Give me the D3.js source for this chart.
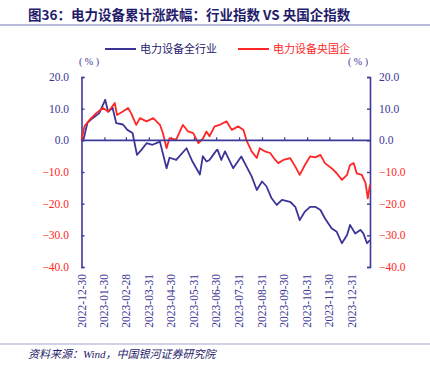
<!DOCTYPE html>
<html><head><meta charset="utf-8">
<script src="https://cdn.jsdelivr.net/npm/d3@7"></script>
<style>body{margin:0;background:#fff}svg{display:block}</style>
</head><body>
<svg id="c" width="430" height="379"></svg>
<script>
const titleText = "图36：电力设备累计涨跌幅：行业指数 VS 央国企指数";
const sourceText = "资料来源：Wind，中国银河证券研究院";
const seriesNames = ["电力设备全行业", "电力设备央国企"];
const yTicks = [20, 10, 0, -10, -20, -30, -40];
const xTickLabels = ["2022-12-30","2023-01-30","2023-02-28","2023-03-31","2023-04-30","2023-05-31","2023-06-30","2023-07-31","2023-08-31","2023-09-30","2023-10-31","2023-11-30","2023-12-31"];

const industryDates = ["2022-12-30","2023-01-02","2023-01-07","2023-01-14","2023-01-23","2023-01-31","2023-02-04","2023-02-10","2023-02-15","2023-02-24","2023-03-02","2023-03-09","2023-03-15","2023-03-21","2023-03-28","2023-04-05","2023-04-15","2023-04-24","2023-04-28","2023-05-07","2023-05-21","2023-05-29","2023-06-08","2023-06-12","2023-06-17","2023-06-21","2023-06-26","2023-07-01","2023-07-02","2023-07-07","2023-07-12","2023-07-23","2023-08-03","2023-08-10","2023-08-17","2023-08-24","2023-08-31","2023-09-06","2023-09-13","2023-09-20","2023-09-27","2023-10-08","2023-10-15","2023-10-21","2023-10-28","2023-11-04","2023-11-11","2023-11-18","2023-11-24","2023-12-03","2023-12-10","2023-12-17","2023-12-24","2023-12-28","2024-01-04","2024-01-11","2024-01-15","2024-01-20","2024-01-24"];
const industryValues = [0,0.5,5.5,7,8.6,12.8,9,10.3,5.4,5,3.3,2.3,-4.6,-3,-0.9,-1.4,-0.4,-8.8,-5.5,-6.2,-2.5,-6.7,-10.8,-5,-6.7,-6.2,-4.6,-3,-3,-6.2,-3.5,-8.8,-5.1,-8.2,-11.4,-15.7,-13,-14.5,-18.3,-20.4,-18.8,-19.4,-21,-25.2,-22.5,-21,-21,-22,-24.6,-27.8,-28.9,-32.5,-29.9,-26.7,-29.4,-28.3,-29.4,-32.5,-31.5];

const soeDates = ["2022-12-30","2023-01-03","2023-01-10","2023-01-19","2023-01-28","2023-02-04","2023-02-08","2023-02-13","2023-02-16","2023-02-24","2023-03-03","2023-03-07","2023-03-14","2023-03-19","2023-03-28","2023-04-06","2023-04-15","2023-04-19","2023-04-24","2023-04-28","2023-05-07","2023-05-16","2023-05-23","2023-05-30","2023-06-06","2023-06-12","2023-06-17","2023-06-21","2023-06-28","2023-07-05","2023-07-14","2023-07-21","2023-07-30","2023-08-06","2023-08-10","2023-08-17","2023-08-24","2023-08-28","2023-09-04","2023-09-11","2023-09-18","2023-09-22","2023-09-29","2023-10-08","2023-10-15","2023-10-21","2023-10-28","2023-11-04","2023-11-11","2023-11-18","2023-11-24","2023-12-03","2023-12-10","2023-12-17","2023-12-24","2023-12-28","2024-01-02","2024-01-06","2024-01-13","2024-01-18","2024-01-21","2024-01-24"];
const soeValues = [0,4.4,6.5,8.6,10.2,9.1,10.2,11.8,8,9.1,10.2,8.6,4.9,7,6,7,4.9,2.3,-2.5,0.7,0.2,4.9,2.8,2.3,-0.9,0.5,2.8,1.3,4.4,4.9,6,3.3,4.4,3.3,0,-3.5,-5.6,-2.5,-3.5,-4,-6.2,-7.2,-6.2,-5.6,-8.3,-10.9,-7.8,-5.1,-5.4,-4.6,-7.2,-8.8,-10.4,-12.5,-10.9,-7.8,-7.2,-10.4,-10.9,-13.5,-18.3,-14];

const NAVY = "#3b3596", RED = "#ff2626", AXIS = "#3f3a9a", TITLE = "#1f1c6b", RULE = "#a3a3d2";
const parse = d3.timeParse("%Y-%m-%d");
const svg = d3.select("#c");
const L = 81.5, R = 370;

const x = d3.scaleTime().domain([parse("2022-12-30"), parse("2024-01-24")]).range([L, R]);
const y = d3.scaleLinear().domain([-40, 20]).range([267, 77]);

// title
svg.append("text").attr("x", 28).attr("y", 20).attr("fill", TITLE)
  .attr("font-family", "'Noto Sans CJK SC', sans-serif").attr("font-weight", "bold").attr("font-size", 13.5)
  .text(titleText);
svg.append("line").attr("x1", 0).attr("x2", 430).attr("y1", 25).attr("y2", 25).attr("stroke", RULE).attr("stroke-width", 1.5);

// legend
const legend = [{name: seriesNames[0], color: NAVY, x: 105}, {name: seriesNames[1], color: RED, x: 238}];
legend.forEach(l => {
  svg.append("line").attr("x1", l.x).attr("x2", l.x + 31).attr("y1", 49).attr("y2", 49).attr("stroke", l.color).attr("stroke-width", 2);
  svg.append("text").attr("x", l.x + 35).attr("y", 53).attr("fill", l.color === NAVY ? TITLE : RED)
    .attr("font-family", "'Noto Sans CJK SC', sans-serif").attr("font-size", 11).text(l.name);
});

// units
[[89, 65], [358, 65]].forEach(p => {
  svg.append("text").attr("x", p[0]).attr("y", p[1]).attr("text-anchor", "middle").attr("fill", NAVY)
    .attr("font-family", "'Liberation Serif', serif").attr("font-size", 10).text("( % )");
});

// y axes
const fmt = d3.format(".1f");
const gL = svg.append("g").attr("transform", `translate(${L},0)`)
  .call(d3.axisRight(y).tickValues(yTicks).tickSize(3).tickFormat(""));
const gR = svg.append("g").attr("transform", `translate(${R},0)`)
  .call(d3.axisLeft(y).tickValues(yTicks).tickSize(3).tickFormat(""));
[gL, gR].forEach(g => {
  g.select(".domain").attr("stroke", AXIS).attr("stroke-width", 1.6);
  g.selectAll(".tick line").attr("stroke", AXIS).attr("stroke-width", 1.4);
});
yTicks.forEach(v => {
  const col = v < 0 ? RED : NAVY;
  svg.append("text").attr("x", 69).attr("y", y(v) + 4).attr("text-anchor", "end").attr("fill", col)
    .attr("font-family", "'Liberation Serif', serif").attr("font-size", 11.5).text(fmt(v));
  svg.append("text").attr("x", 379).attr("y", y(v) + 4).attr("text-anchor", "start").attr("fill", col)
    .attr("font-family", "'Liberation Serif', serif").attr("font-size", 11.5).text(fmt(v));
});

// zero line with x ticks
const gX = svg.append("g").attr("transform", `translate(0,${y(0)})`)
  .call(d3.axisTop(x).tickValues(xTickLabels.map(parse)).tickSize(3).tickFormat(""));
gX.select(".domain").remove();
gX.selectAll(".tick line").attr("stroke", AXIS).attr("stroke-width", 1.2);

// x labels
xTickLabels.forEach(s => {
  const px = x(parse(s));
  svg.append("text").attr("transform", `translate(${px + 4},274) rotate(-90)`).attr("text-anchor", "end")
    .attr("fill", NAVY).attr("font-family", "'Liberation Serif', serif").attr("font-size", 11.5).text(s);
});

// lines
const line = d3.line().x(d => x(d[0])).y(d => y(d[1]));
const ind = industryDates.map((d, i) => [parse(d), industryValues[i]]);
const soe = soeDates.map((d, i) => [parse(d), soeValues[i]]);
svg.append("path").datum(ind).attr("d", line).attr("fill", "none").attr("stroke", NAVY).attr("stroke-width", 1.8).attr("stroke-linejoin", "round");
svg.append("path").datum(soe).attr("d", line).attr("fill", "none").attr("stroke", RED).attr("stroke-width", 1.8).attr("stroke-linejoin", "round");
svg.append("line").attr("x1", L).attr("x2", R).attr("y1", y(0)).attr("y2", y(0)).attr("stroke", AXIS).attr("stroke-width", 1.6);

// footer
svg.append("line").attr("x1", 0).attr("x2", 430).attr("y1", 344).attr("y2", 344).attr("stroke", RULE).attr("stroke-width", 1.2);
svg.append("text").attr("x", 28).attr("y", 358).attr("fill", TITLE).attr("font-style", "italic")
  .attr("font-family", "'Liberation Serif', 'Noto Sans CJK SC', serif").attr("font-size", 11).text(sourceText);
</script>
</body></html>
